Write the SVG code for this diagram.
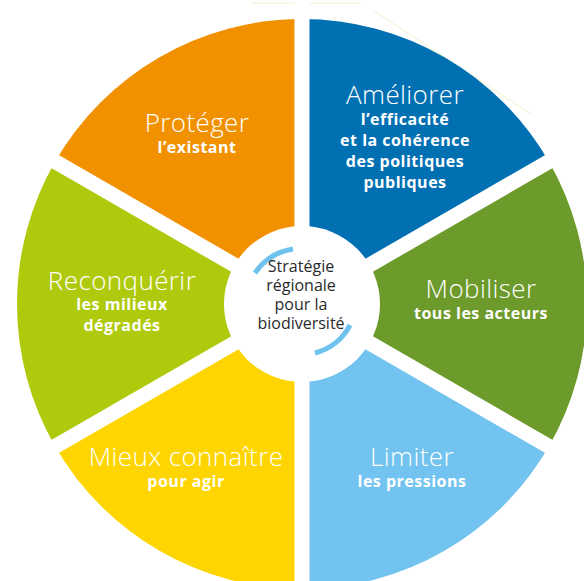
<svg xmlns="http://www.w3.org/2000/svg" width="584" height="581" viewBox="0 0 584 581">
<style>
.title{font-family:"Open Sans","Noto Sans","Liberation Sans",sans-serif;font-weight:300;font-size:26px;letter-spacing:0.4px;fill:#fff;text-anchor:middle}
.sub{font-family:"Open Sans","Noto Sans","Liberation Sans",sans-serif;font-weight:700;font-size:16px;letter-spacing:0.5px;fill:#fff;text-anchor:middle}
.center{font-family:"Open Sans","Noto Sans","Liberation Sans",sans-serif;font-size:16px;fill:#2a2a2a;text-anchor:middle}
.gap{stroke:#fff;stroke-width:15}
.arc{fill:none;stroke:#6fc1ee;stroke-width:5}
</style>
<rect width="584" height="581" fill="#fff"/>
<line x1="251" y1="3" x2="361" y2="3" stroke="#eef0cc" stroke-width="1"/>
<line x1="374" y1="11" x2="531" y2="114" stroke="#eef0cc" stroke-width="1"/>
<g id="ameliorer">
<path d="M302 304 L302 19 A285 285 0 0 1 548.8 161.5 Z" fill="#0070b2"/>
<text class="title" x="405" y="104">Améliorer</text>
<text class="sub" x="405" y="125">l’efficacité</text>
<text class="sub" x="405" y="146">et la cohérence</text>
<text class="sub" x="405" y="167">des politiques</text>
<text class="sub" x="405" y="188">publiques</text>
</g>
<g id="mobiliser">
<path d="M302 304 L548.8 161.5 A285 285 0 0 1 548.8 446.5 Z" fill="#6c9a2b"/>
<text class="title" x="481" y="298">Mobiliser</text>
<text class="sub" x="481" y="319">tous les acteurs</text>
</g>
<g id="limiter">
<path d="M302 304 L548.8 446.5 A285 285 0 0 1 302 589 Z" fill="#72c3ef"/>
<text class="title" x="412" y="466">Limiter</text>
<text class="sub" x="412" y="487">les pressions</text>
</g>
<g id="mieux-connaitre">
<path d="M302 304 L302 589 A285 285 0 0 1 55.2 446.5 Z" fill="#fed500"/>
<text class="title" x="186" y="466">Mieux connaître</text>
<text class="sub" x="186" y="487">pour agir</text>
</g>
<g id="reconquerir">
<path d="M302 304 L55.2 446.5 A285 285 0 0 1 55.2 161.5 Z" fill="#afca0c"/>
<text class="title" x="122" y="290">Reconquérir</text>
<text class="sub" x="122" y="310">les milieux</text>
<text class="sub" x="122" y="331">dégradés</text>
</g>
<g id="proteger">
<path d="M302 304 L55.2 161.5 A285 285 0 0 1 302 19 Z" fill="#f29100"/>
<text class="title" x="197" y="132">Protéger</text>
<text class="sub" x="197" y="153">l’existant</text>
</g>
<g id="connectors">
<line class="gap" x1="302" y1="0" x2="302" y2="581"/>
<line class="gap" x1="302" y1="304" x2="562" y2="154"/>
<line class="gap" x1="302" y1="304" x2="562" y2="454"/>
<line class="gap" x1="302" y1="304" x2="42" y2="154"/>
<line class="gap" x1="302" y1="304" x2="42" y2="454"/>
</g>
<g id="centre">
<circle cx="302" cy="304" r="78" fill="#fff"/>
<path class="arc" d="M255 273 A56 56 0 0 1 293 249"/>
<path class="arc" d="M350 325 A54 54 0 0 1 315 353"/>
<text class="center" x="301" y="272">Stratégie</text>
<text class="center" x="301" y="291">régionale</text>
<text class="center" x="301" y="310">pour la</text>
<text class="center" x="301" y="329">biodiversité</text>
</g>
</svg>
